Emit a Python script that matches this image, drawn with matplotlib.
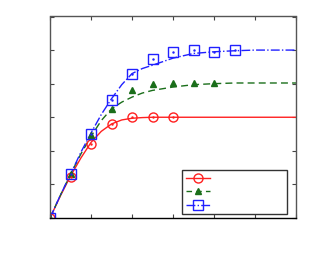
import numpy as np
import matplotlib
matplotlib.use('Agg')
import matplotlib.pyplot as plt

# measured points
red_x = [0, 1, 2, 3, 4, 5, 6]
red_y = [0, 1.22, 2.2, 2.8, 3.0, 3.01, 3.0]
green_x = [0, 1, 2, 3, 4, 5, 6, 7, 8]
green_y = [0, 1.3, 2.46, 3.25, 3.8, 3.99, 4.02, 4.02, 4.02]
blue_x = [0, 1, 2, 3, 4, 5, 6, 7, 8, 9]
blue_y = [0, 1.31, 2.5, 3.52, 4.28, 4.72, 4.95, 5.0, 4.95, 5.0]

# fitted curves
fit_x = [0, 0.5, 1, 1.5, 2, 2.5, 3, 3.5, 4, 4.5, 5, 6, 7, 8, 9, 10, 11, 12]
red_fit = [0, 0.65, 1.25, 1.78, 2.25, 2.58, 2.8, 2.92, 2.97, 2.99, 3.0, 3.0, 3.0, 3.0, 3.0, 3.0, 3.0, 3.0]
green_fit = [0, 0.67, 1.3, 1.9, 2.43, 2.9, 3.25, 3.45, 3.6, 3.72, 3.8, 3.9, 3.97, 4.0, 4.02, 4.02, 4.02, 4.02]
blue_fit = [0, 0.67, 1.3, 1.95, 2.53, 3.08, 3.55, 3.97, 4.3, 4.45, 4.55, 4.76, 4.9, 4.95, 4.98, 5.0, 5.0, 5.0]

red = '#ff2020'
green = '#1a6e1a'
blue = '#2020ff'

fig = plt.figure(figsize=(3.13, 2.63), dpi=100)
ax = fig.add_axes([50/313, 1-218/263, 246/313, 201.5/263])

ax.plot(fit_x, red_fit, '-', color=red, lw=1.0)
ax.plot(fit_x, green_fit, '--', color=green, lw=1.0, dashes=(5, 3))
ax.plot(fit_x, blue_fit, '-.', color=blue, lw=1.0)

ax.plot(red_x, red_y, 'o', color=red, mfc='none', ms=6.5, mew=1.0)
ax.plot(green_x, green_y, '^', color=green, ms=5, mew=1.0)
ax.plot(blue_x, blue_y, 's', color=blue, mfc='none', ms=7.5, mew=1.0)
ax.plot(red_x, red_y, '.', color=red, ms=1.5)
ax.plot(blue_x, blue_y, '.', color=blue, ms=1.5)

# legend handles
h1, = ax.plot([], [], '-', color=red, marker='o', mfc='none', ms=6.5, lw=1.0)
h2, = ax.plot([], [], '--', color=green, marker='^', ms=5, lw=1.0, dashes=(4, 3))
h3, = ax.plot([], [], '-.', color=blue, marker='s', mfc='none', ms=7.5, lw=1.0)
leg = ax.legend([h1, h2, h3], ['', '', ''], numpoints=1, fontsize=8,
                handlelength=2.2, mode='expand', loc='lower left',
                bbox_to_anchor=(131.7/246, 3.7/201.5, 105.6/246, 0.2),
                fancybox=False, framealpha=1, edgecolor='#333333',
                borderpad=0.35, labelspacing=0.3, handletextpad=0,
                borderaxespad=0)
leg.get_frame().set_linewidth(1.0)

ax.set_xlim(0, 12)
ax.set_ylim(0, 6)
ax.set_xticks(np.arange(0, 13, 2))
ax.set_yticks(np.arange(0, 7, 1))
ax.set_xticklabels([])
ax.set_yticklabels([])
ax.tick_params(direction='in', top=True, right=True, length=3, width=0.8, color='#444444')
for s in ax.spines.values():
    s.set_linewidth(1.0)
    s.set_color('#555555')
ax.spines['bottom'].set_color('black')

fig.savefig('out.png', dpi=100)
